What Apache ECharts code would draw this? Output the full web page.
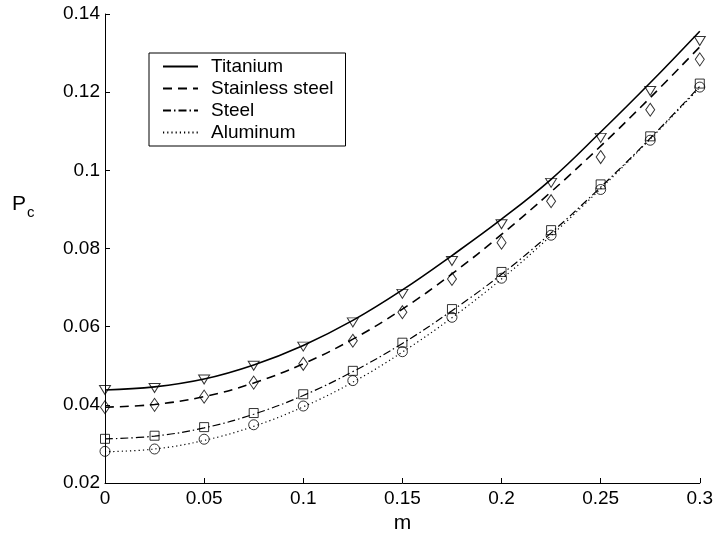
<!DOCTYPE html>
<html>
<head>
<meta charset="utf-8">
<script src="https://cdn.jsdelivr.net/npm/echarts@6/dist/echarts.min.js"></script>
<style>
  body{margin:0;background:#fff;}
  #main{width:716px;height:540px;}
</style>
</head>
<body>
<div id="main"></div>
<script>
  var mValues = [0, 0.025, 0.05, 0.075, 0.1, 0.125, 0.15, 0.175, 0.2, 0.225, 0.25, 0.275, 0.3];

  // curves
  var titaniumLine  = [0.0438, 0.0446, 0.0466, 0.0502, 0.0552, 0.0616, 0.0694, 0.0782, 0.0875, 0.0977, 0.1098, 0.1224, 0.1356];
  var stainlessLine = [0.0394, 0.0401, 0.0421, 0.0456, 0.0505, 0.0568, 0.0645, 0.0735, 0.0836, 0.0945, 0.1062, 0.1186, 0.1316];
  var steelLine     = [0.0313, 0.0320, 0.0341, 0.0376, 0.0424, 0.0485, 0.0557, 0.0641, 0.0734, 0.0840, 0.0957, 0.1082, 0.1215];
  var aluminumLine  = [0.0280, 0.0287, 0.0309, 0.0345, 0.0395, 0.0458, 0.0535, 0.0623, 0.0722, 0.0833, 0.0953, 0.1080, 0.1212];

  // markers
  var titaniumPts  = [0.0438, 0.0443, 0.0465, 0.0500, 0.0549, 0.0611, 0.0684, 0.0768, 0.0862, 0.0968, 0.1083, 0.1203, 0.1331];
  var stainlessPts = [0.0394, 0.0400, 0.0421, 0.0457, 0.0505, 0.0564, 0.0637, 0.0722, 0.0815, 0.0921, 0.1034, 0.1155, 0.1284];
  var steelPts     = [0.0313, 0.0321, 0.0343, 0.0379, 0.0427, 0.0487, 0.0559, 0.0645, 0.0740, 0.0847, 0.0964, 0.1087, 0.1222];
  var aluminumPts  = [0.0281, 0.0287, 0.0312, 0.0349, 0.0397, 0.0462, 0.0536, 0.0624, 0.0724, 0.0834, 0.0951, 0.1077, 0.1213];

  function pairs(ys){
    var out = [];
    for(var i = 0; i < mValues.length; i++){
      out.push([mValues[i], ys[i]]);
    }
    return out;
  }

  function lineSeries(name, ys, type, width){
    return {
      name: name,
      type: 'line',
      smooth: 0.4,
      showSymbol: false,
      symbol: 'none',
      color: '#000',
      lineStyle: {color: '#000', width: width, type: type},
      data: pairs(ys),
      z: 2
    };
  }

  function markSeries(ys, symbol, size, rotate){
    return {
      type: 'scatter',
      symbol: symbol,
      symbolSize: size,
      symbolRotate: rotate || 0,
      itemStyle: {color: 'rgba(0,0,0,0)', borderColor: '#000', borderWidth: 1},
      data: pairs(ys),
      z: 3
    };
  }

  var chart = echarts.init(document.getElementById('main'));
  var font = 'Liberation Sans, Arial, sans-serif';

  var option = {
    animation: false,
    backgroundColor: '#fff',
    textStyle: {fontFamily: font},
    grid: {left: 105, right: 14, top: 14, bottom: 57},
    graphic: [{
      type: 'text',
      left: 12,
      top: 194,
      style: {
        text: '{p|P}{c|c}',
        rich: {
          p: {fontSize: 21, fill: '#000', fontFamily: font},
          c: {fontSize: 15, fill: '#000', fontFamily: font, padding: [16, 0, 0, 1]}
        }
      }
    }],
    legend: {
      left: 149,
      top: 53,
      orient: 'vertical',
      backgroundColor: '#fff',
      borderColor: '#000',
      borderWidth: 1,
      padding: [4, 12, 4, 13],
      itemGap: 3,
      itemWidth: 35,
      itemHeight: 20,
      itemStyle: {opacity: 0},
      textStyle: {fontFamily: font, fontSize: 19, color: '#000', padding: [0, 0, 0, 8]},
      data: ['Titanium', 'Stainless steel', 'Steel', 'Aluminum']
    },
    xAxis: {
      type: 'value',
      min: 0,
      max: 0.3,
      interval: 0.05,
      name: 'm',
      nameLocation: 'middle',
      nameGap: 29,
      nameTextStyle: {fontSize: 21, color: '#000', fontFamily: font},
      axisLine: {show: true, lineStyle: {color: '#000', width: 1}},
      axisTick: {inside: true, length: 5, lineStyle: {color: '#000'}},
      axisLabel: {fontSize: 19, color: '#000', margin: 6},
      splitLine: {show: false}
    },
    yAxis: {
      type: 'value',
      min: 0.02,
      max: 0.14,
      interval: 0.02,
      axisLine: {show: true, lineStyle: {color: '#000', width: 1}},
      axisTick: {inside: true, length: 5, lineStyle: {color: '#000'}},
      axisLabel: {fontSize: 19, color: '#000', margin: 5},
      splitLine: {show: false}
    },
    series: [
      lineSeries('Titanium', titaniumLine, 'solid', 1.6),
      lineSeries('Stainless steel', stainlessLine, [9, 6], 1.6),
      lineSeries('Steel', steelLine, [8, 3, 1.5, 3], 1.2),
      lineSeries('Aluminum', aluminumLine, [1.2, 3], 1.2),
      markSeries(titaniumPts, 'triangle', [11, 9], 180),
      markSeries(stainlessPts, 'diamond', [9, 13]),
      markSeries(steelPts, 'rect', 9),
      markSeries(aluminumPts, 'circle', 10)
    ]
  };

  chart.setOption(option);
</script>
</body>
</html>
